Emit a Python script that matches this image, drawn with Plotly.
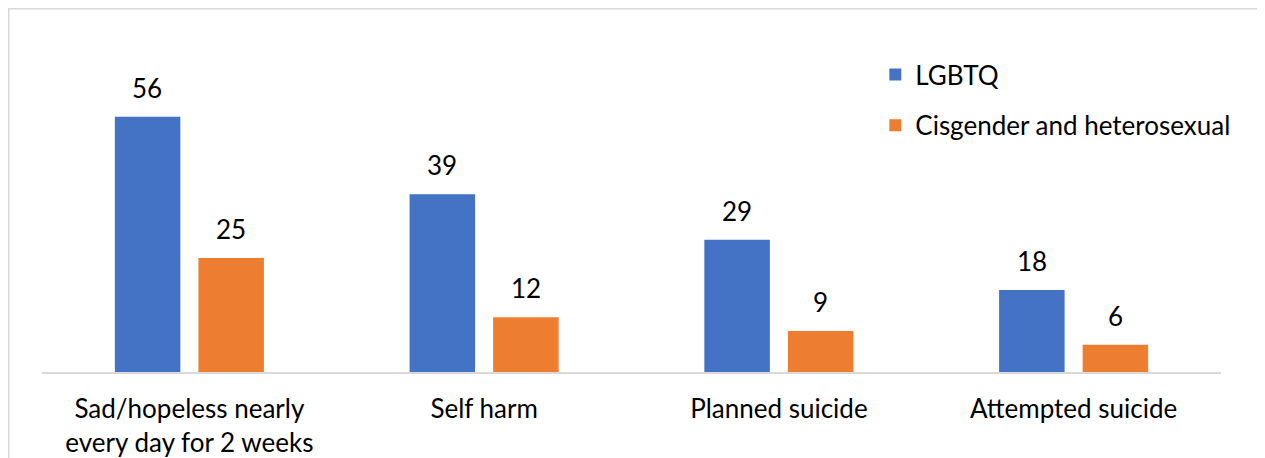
import plotly.graph_objects as go

categories = ["Sad/hopeless nearly<br>every day for 2 weeks", "Self harm", "Planned suicide", "Attempted suicide"]
lgbtq = [56, 39, 29, 18]
cishet = [25, 12, 9, 6]
series_names = ["LGBTQ", "Cisgender and heterosexual"]
colors = ["#4472C4", "#ED7D31"]

FONT = "Lato"
FS = 26
fig = go.Figure()
for name, vals, col in zip(series_names, [lgbtq, cishet], colors):
    fig.add_trace(go.Bar(x=categories, y=vals, name=name, marker_color=col,
                         marker_line_width=0, legendgroup=name))

# value labels above bars
offsets = [-42, 42]
for vals, off in zip([lgbtq, cishet], offsets):
    for c, v in zip(categories, vals):
        fig.add_annotation(x=c, y=v, text=str(v), showarrow=False, xshift=off,
                           yanchor="bottom", yshift=11,
                           font=dict(family=FONT, size=FS, color="#000"))

L, R, T, B = 34, 52, 45, 94
W, H = 1265, 458
PW, PH = W - L - R, H - T - B

fig.update_layout(
    width=W, height=H,
    margin=dict(l=L, r=R, t=T, b=B, autoexpand=False),
    plot_bgcolor="white", paper_bgcolor="white",
    barmode="group", bargap=0.433, bargroupgap=0.216,
    font=dict(family=FONT, size=FS, color="#000"),
    legend=dict(x=0.7068, y=1.006, xanchor="left", yanchor="top",
                tracegroupgap=14, traceorder="grouped",
                font=dict(family=FONT, size=FS, color="#000")),
    showlegend=True,
)
fig.update_yaxes(range=[0, 70], visible=False, showgrid=False)
fig.update_xaxes(showline=True, linecolor="#d9d9d9", linewidth=2, ticks="", automargin=False,
                 tickfont=dict(family=FONT, size=FS, color="#000"), ticklabelstandoff=13)
fig.add_shape(type="rect", xref="paper", yref="paper",
              x0=(0.75 - L) / PW, x1=(W - 3 - L) / PW,
              y0=-0.5, y1=(H - B - 0.75) / PH,
              line=dict(color="#d9d9d9", width=1.5), fillcolor="rgba(0,0,0,0)")
fig.write_html("out.html")
